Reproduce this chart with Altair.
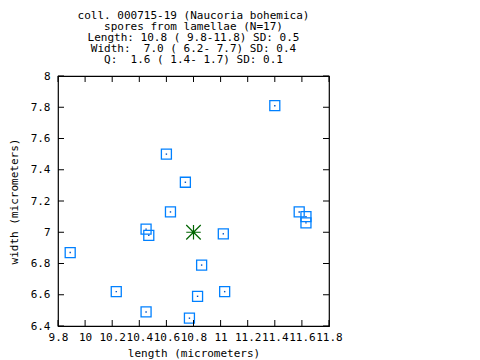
import altair as alt
import pandas as pd

# spore measurements (micrometers)
length = [10.60, 10.74, 10.63, 10.45, 10.47, 11.02, 10.86, 10.23, 11.03, 10.83,
          10.45, 10.77, 11.40, 11.58, 11.63, 11.63, 9.89]
width = [7.50, 7.32, 7.13, 7.02, 6.98, 6.99, 6.79, 6.62, 6.62, 6.59,
         6.49, 6.45, 7.81, 7.13, 7.10, 7.06, 6.87]
mean_length = [10.8]
mean_width = [7.0]

x_ticks = [9.8, 10.0, 10.2, 10.4, 10.6, 10.8, 11.0, 11.2, 11.4, 11.6, 11.8]
y_ticks = [6.4, 6.6, 6.8, 7.0, 7.2, 7.4, 7.6, 7.8, 8.0]

NB = "\u00a0"
title_lines = [
    "coll. 000715-19 (Naucoria bohemica)",
    "spores from lamellae (N=17)",
    "Length: 10.8 ( 9.8-11.8) SD: 0.5",
    " Width:  7.0 ( 6.2- 7.7) SD: 0.4",
    "     Q:  1.6 ( 1.4- 1.7) SD: 0.1",
]
title_lines = [t.replace(" ", NB) for t in title_lines]

FONT = "DejaVu Sans Mono"
BLUE = "#0080ff"
W, H = 271, 250

pts = pd.DataFrame({"length": length, "width": width})
mean = pd.DataFrame({"length": mean_length, "width": mean_width})
xt = pd.DataFrame({"length": x_ticks})
yt = pd.DataFrame({"width": y_ticks})

xs = alt.Scale(domain=[9.8, 11.8], nice=False, zero=False)
ys = alt.Scale(domain=[6.4, 8.0], nice=False, zero=False)

xaxis = alt.Axis(values=x_ticks, tickCount=len(x_ticks), format="~g",
                 title="length (micrometers)", grid=False, tickSize=0,
                 domain=False, labelOverlap=False, labelFlush=False, labelPadding=5,
                 labelFont=FONT, labelFontSize=11, labelColor="black",
                 titleFont=FONT, titleFontSize=11, titleFontWeight="normal", titleColor="black",
                 titleX=W / 2, titleY=30, titleBaseline="alphabetic")
yaxis = alt.Axis(values=y_ticks, tickCount=len(y_ticks), format="~g",
                 title="width (micrometers)", grid=False, tickSize=0,
                 domain=False, labelOverlap=False, labelFlush=False, labelPadding=8,
                 labelFont=FONT, labelFontSize=11, labelColor="black",
                 titleFont=FONT, titleFontSize=11, titleFontWeight="normal", titleColor="black",
                 titleX=-44, titleY=H / 2, titleAngle=-90, titleBaseline="middle")

squares = alt.Chart(pts).mark_point(shape="square", filled=False, size=100,
                                    strokeWidth=1.3, color=BLUE, opacity=1).encode(
    x=alt.X("length:Q", scale=xs, axis=xaxis),
    y=alt.Y("width:Q", scale=ys, axis=yaxis),
)
dots = alt.Chart(pts).mark_square(size=2, color="#0050c0", opacity=1).encode(
    x="length:Q", y="width:Q")

star = alt.Chart(mean).mark_point(
    shape="M-1,0L1,0M0,-1L0,1M-1,-1L1,1M-1,1L1,-1",
    filled=False, size=210, strokeWidth=1.2, color="#006400", opacity=1).encode(
    x="length:Q", y="width:Q")

tick_top = alt.Chart(xt).mark_rule(color="black", strokeWidth=1).encode(
    x="length:Q", y=alt.value(0), y2=alt.value(6))
tick_bot = alt.Chart(xt).mark_rule(color="black", strokeWidth=1).encode(
    x="length:Q", y=alt.value(H), y2=alt.value(H - 6))
tick_left = alt.Chart(yt).mark_rule(color="black", strokeWidth=1).encode(
    y="width:Q", x=alt.value(0), x2=alt.value(6))
tick_right = alt.Chart(yt).mark_rule(color="black", strokeWidth=1).encode(
    y="width:Q", x=alt.value(W), x2=alt.value(W - 6))

chart = alt.layer(squares, dots, star, tick_top, tick_bot, tick_left, tick_right).properties(
    width=W, height=H,
    title=alt.TitleParams(text=title_lines, font=FONT, fontSize=11, lineHeight=11,
                          fontWeight="normal", color="black", anchor="middle",
                          frame="group", offset=5),
    autosize=alt.AutoSizeParams(type="none"),
    padding={"left": 50, "top": 68, "right": 143, "bottom": 36},
).configure_view(stroke="black", strokeWidth=1.2)

chart.save("out.html", embed_options={"renderer": "svg", "actions": False})
